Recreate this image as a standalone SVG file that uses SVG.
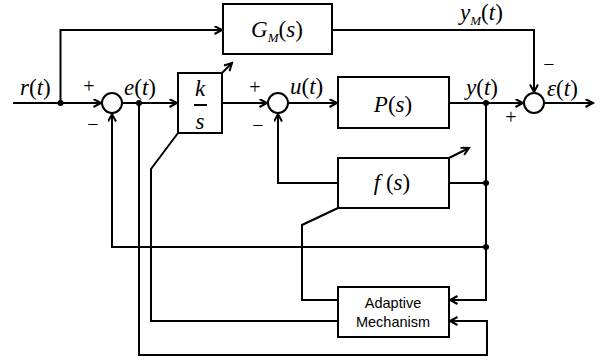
<svg xmlns="http://www.w3.org/2000/svg" width="604" height="362" viewBox="0 0 604 362">
<style>
.ln{fill:none;stroke:#000;stroke-width:2}
.bx{fill:#fff;stroke:#000;stroke-width:2}
.sm{fill:#fff;stroke:#000;stroke-width:2}
.dot{fill:#000}
.lb{font-size:23px;fill:#000}
.it{font-style:italic}
.sub{font-style:italic;font-size:13px}
.sg{font-size:20px;fill:#000;text-anchor:middle}
.am{font-size:14.5px;fill:#000;text-anchor:middle}
</style>
<defs>
<marker id="arr" markerUnits="userSpaceOnUse" markerWidth="12" markerHeight="12" refX="8" refY="4.5" orient="auto">
<path d="M0.5,0.5 L8,4.5 L0.5,8.5" fill="none" stroke="#000" stroke-width="2"/>
</marker>
</defs>
<rect width="604" height="362" fill="#fff"/>
<g id="connectors">
<path class="ln" d="M13,103 H101" marker-end="url(#arr)"/>
<path class="ln" d="M60.5,103 V30 H222" marker-end="url(#arr)"/>
<path class="ln" d="M122,103 H177" marker-end="url(#arr)"/>
<path class="ln" d="M222,103 H267" marker-end="url(#arr)"/>
<path class="ln" d="M288,103 H337" marker-end="url(#arr)"/>
<path class="ln" d="M449,103 H523" marker-end="url(#arr)"/>
<path class="ln" d="M544,103 H593" marker-end="url(#arr)"/>
<path class="ln" d="M332,30 H534 V92" marker-end="url(#arr)"/>
<path class="ln" d="M486,103 V300 H450" marker-end="url(#arr)"/>
<path class="ln" d="M449,183 H486"/>
<path class="ln" d="M338,183 H278 V114" marker-end="url(#arr)"/>
<path class="ln" d="M486,247 H112 V114" marker-end="url(#arr)"/>
<path class="ln" d="M139,103 V355 H487 V321 H450" marker-end="url(#arr)"/>
<path class="ln" d="M178,133 L151,169 V321 H338"/>
<path class="ln" d="M338,208 L302,225 V300 H338"/>
<path class="ln" d="M222,73 L232,63" marker-end="url(#arr)"/>
<path class="ln" d="M449,158 L469,148" marker-end="url(#arr)"/>
<circle class="dot" cx="60.5" cy="103" r="3"/>
<circle class="dot" cx="139" cy="103" r="3"/>
<circle class="dot" cx="486" cy="103" r="3"/>
<circle class="dot" cx="486" cy="183" r="3"/>
<circle class="dot" cx="486" cy="247" r="3"/>
</g>
<g font-family="Liberation Serif, serif">
<g id="sum1">
<circle class="sm" cx="112" cy="103" r="10"/>
<text class="sg" x="89" y="93">+</text>
<text class="sg" x="93" y="131">−</text>
</g>
<g id="sum2">
<circle class="sm" cx="278" cy="103" r="10"/>
<text class="sg" x="255" y="94">+</text>
<text class="sg" x="258" y="132">−</text>
</g>
<g id="sum3">
<circle class="sm" cx="534" cy="103" r="10"/>
<text class="sg" x="549" y="71" font-size="18">−</text>
<text class="sg" x="511" y="124">+</text>
</g>
<g id="GM">
<rect class="bx" x="223" y="4" width="109" height="50"/>
<text class="lb" x="277" y="37" text-anchor="middle"><tspan class="it">G</tspan><tspan class="sub" dy="5">M</tspan><tspan dy="-5">(</tspan><tspan class="it">s</tspan>)</text>
</g>
<g id="KS">
<rect class="bx" x="178" y="73" width="44" height="60"/>
<text class="lb it" x="200" y="96" text-anchor="middle">k</text>
<line class="ln" x1="194" y1="105" x2="207" y2="105"/>
<text class="lb it" x="200" y="129" text-anchor="middle">s</text>
</g>
<g id="P">
<rect class="bx" x="338" y="77" width="111" height="51"/>
<text class="lb" x="393" y="112" text-anchor="middle"><tspan class="it">P</tspan>(<tspan class="it">s</tspan>)</text>
</g>
<g id="F">
<rect class="bx" x="338" y="158" width="111" height="50"/>
<text class="lb" x="392" y="190" text-anchor="middle"><tspan class="it">f</tspan> (<tspan class="it">s</tspan>)</text>
</g>
<g id="labels">
<text class="lb" x="20" y="95"><tspan class="it">r</tspan>(<tspan class="it">t</tspan>)</text>
<text class="lb" x="124" y="95"><tspan class="it">e</tspan>(<tspan class="it">t</tspan>)</text>
<text class="lb" x="290" y="94"><tspan class="it">u</tspan>(<tspan class="it">t</tspan>)</text>
<text class="lb" x="466" y="95"><tspan class="it">y</tspan>(<tspan class="it">t</tspan>)</text>
<text class="lb" x="547" y="96"><tspan class="it">ε</tspan>(<tspan class="it">t</tspan>)</text>
<text class="lb" x="460" y="20" font-size="22"><tspan class="it">y</tspan><tspan class="sub" dy="5">M</tspan><tspan dy="-5">(</tspan><tspan class="it">t</tspan>)</text>
</g>
</g>
<g id="AM" font-family="Liberation Sans, sans-serif">
<rect class="bx" x="338" y="287" width="111" height="50"/>
<text class="am" x="393" y="308">Adaptive</text>
<text class="am" x="393" y="327">Mechanism</text>
</g>
</svg>
